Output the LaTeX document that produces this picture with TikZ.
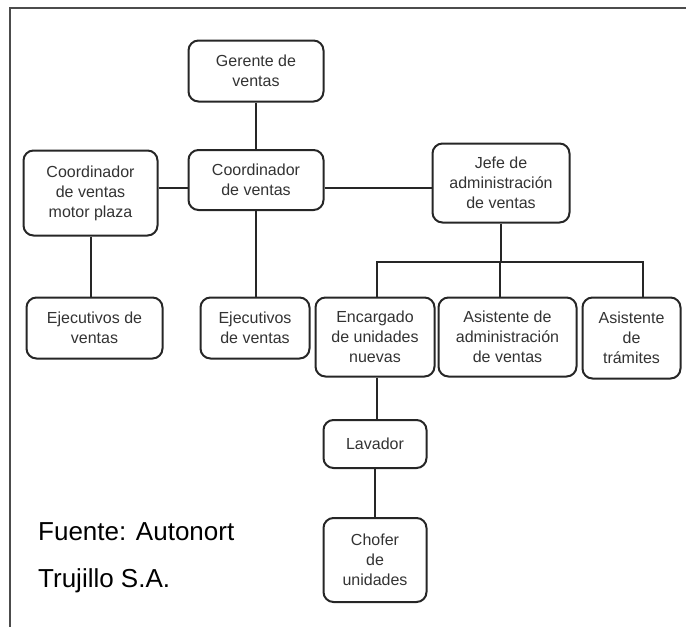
\documentclass[tikz,border=0pt]{standalone}
\usepackage{fontspec}
\setmainfont{Liberation Sans}
\usepackage{tikz}

\begin{document}
\begin{tikzpicture}[x=1pt, y=-1pt,
    puesto/.style={draw=black!85, line width=2pt, rounded corners=10pt, fill=white,
      align=center, inner sep=0pt, text=black!80,
      font=\fontsize{16}{20}\selectfont},
    linea/.style={draw=black!85, line width=2pt}]
  \useasboundingbox (0,0) rectangle (686,627);

  % Frame (top and left only)
  \draw[black!70, line width=1.5pt] (686,8) -- (10,8) -- (10,627);

  % Define nodes
  \node[puesto, minimum width=135pt, minimum height=61pt] (gerente) at (256,71) {Gerente de\\ventas};
  \node[puesto, minimum width=135pt, minimum height=60pt] (coord) at (256,180) {Coordinador\\de ventas};
  \node[puesto, minimum width=134pt, minimum height=85pt] (coordmp) at (90.5,193) {Coordinador\\de ventas\\motor plaza};
  \node[puesto, minimum width=137pt, minimum height=79pt] (jefe) at (501,183) {Jefe de\\administración\\de ventas};
  \node[puesto, minimum width=136pt, minimum height=61pt] (ejec1) at (94.5,328) {Ejecutivos de\\ventas};
  \node[puesto, minimum width=109pt, minimum height=61pt] (ejec2) at (255,328) {Ejecutivos\\de ventas};
  \node[puesto, minimum width=119pt, minimum height=79pt] (encargado) at (375,337) {Encargado\\de unidades\\nuevas};
  \node[puesto, minimum width=138pt, minimum height=79pt] (asistadm) at (507.5,337) {Asistente de\\administración\\de ventas};
  \node[puesto, minimum width=98pt, minimum height=81pt] (asisttram) at (631.5,338) {Asistente\\de\\trámites};
  \node[puesto, minimum width=103pt, minimum height=48pt] (lavador) at (375,444) {Lavador};
  \node[puesto, minimum width=103pt, minimum height=84pt] (chofer) at (375,560) {Chofer\\de\\unidades};
  \coordinate (bus) at (501,262);

  \node[anchor=base west, inner sep=0pt, font=\fontsize{26}{30}\selectfont] (fuente) at (38,540) {Fuente: Autonort};
  \node[anchor=base west, inner sep=0pt, font=\fontsize{26}{30}\selectfont] (empresa) at (38,587) {Trujillo S.A.};

  % Define edges
  \draw[linea] (gerente) -- (coord);
  \draw[linea] ([yshift=5pt]coordmp.east) -- ([yshift=-8pt]coord.west);
  \draw[linea] ([yshift=-8pt]coord.east) -- ([yshift=-5pt]jefe.west);
  \draw[linea] (coordmp.south) -- (coordmp.south |- ejec1.north);
  \draw[linea] (coord.south) -- (coord.south |- ejec2.north);
  \draw[linea] (jefe.south) -- (jefe.south |- bus);
  \draw[linea] ([xshift=2pt]encargado.north) |- ([xshift=11pt]asisttram.north |- bus) -- ([xshift=11pt]asisttram.north);
  \draw[linea] ([xshift=-8pt]asistadm.north) -- ([xshift=-8pt]asistadm.north |- bus);
  \draw[linea] ([xshift=2pt]encargado.south) -- ([xshift=2pt]encargado.south |- lavador.north);
  \draw[linea] (lavador) -- (chofer);
\end{tikzpicture}
\end{document}
